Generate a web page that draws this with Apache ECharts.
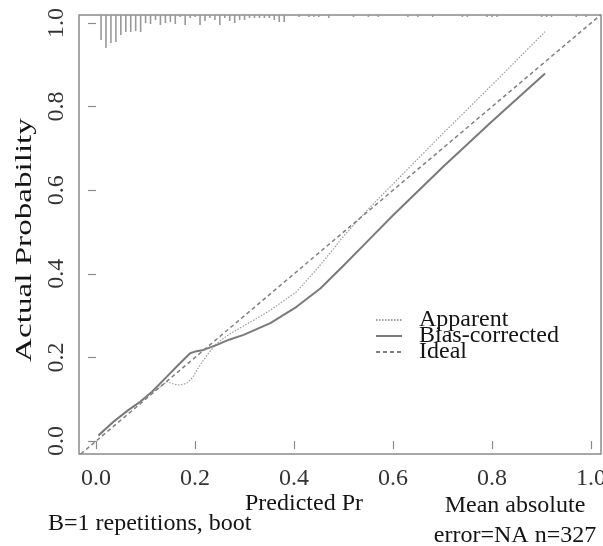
<!DOCTYPE html>
<html>
<head>
<meta charset="utf-8">
<script src="https://cdn.jsdelivr.net/npm/echarts@6/dist/echarts.min.js"></script>
<style>
  html, body { margin: 0; padding: 0; background: #fff; }
  #chart { width: 603px; height: 546px; }
</style>
</head>
<body>
<div id="chart"></div>
<script>
// calibration curves
const apparentX = [0.005, 0.035, 0.065, 0.09, 0.113, 0.13, 0.143, 0.155, 0.165, 0.175, 0.185, 0.195, 0.205, 0.215, 0.225, 0.244, 0.265, 0.284, 0.32, 0.352, 0.405, 0.453, 0.5, 0.55, 0.6, 0.7, 0.8, 0.907]
const apparentY = [0.012, 0.045, 0.073, 0.094, 0.115, 0.13, 0.142, 0.137, 0.134, 0.135, 0.14, 0.152, 0.172, 0.19, 0.207, 0.234, 0.252, 0.266, 0.29, 0.313, 0.357, 0.421, 0.49, 0.555, 0.615, 0.735, 0.852, 0.979]

const biasX = [0.005, 0.035, 0.065, 0.089, 0.113, 0.143, 0.166, 0.19, 0.203, 0.217, 0.244, 0.27, 0.298, 0.352, 0.405, 0.453, 0.5, 0.55, 0.6, 0.7, 0.8, 0.907]
const biasY = [0.014, 0.046, 0.074, 0.094, 0.118, 0.154, 0.182, 0.21, 0.215, 0.218, 0.23, 0.243, 0.254, 0.282, 0.321, 0.365, 0.42, 0.48, 0.54, 0.655, 0.765, 0.879]

const idealX = [-0.031, 1.019]
const idealY = [-0.031, 1.019]

// distribution of predicted values (rug along the top)
const rugX = [0.01, 0.02, 0.03, 0.04, 0.05, 0.06, 0.07, 0.08, 0.09, 0.10, 0.11, 0.12, 0.13, 0.14, 0.15, 0.16, 0.17, 0.18, 0.19, 0.20,
  0.21, 0.22, 0.23, 0.24, 0.25, 0.26, 0.27, 0.28, 0.29, 0.30, 0.31, 0.32, 0.33, 0.34, 0.35, 0.36, 0.37, 0.38, 0.41, 0.43, 0.44, 0.45, 0.47,
  0.52, 0.55, 0.57, 0.63, 0.65, 0.68, 0.74, 0.75, 0.79, 0.80, 0.81, 0.90, 0.91, 0.92, 0.97, 0.99]
const rugFreq = [25, 33, 28, 27, 20, 17, 17, 16, 17, 8, 9, 5, 10, 8, 7, 9, 2, 10, 3, 2,
  10, 6, 3, 5, 10, 3, 6, 8, 5, 5, 3, 3, 3, 3, 3, 5, 7, 7, 2, 2, 2, 2, 3,
  2, 2, 2, 2, 2, 2, 2, 2, 2, 2, 2, 2, 2, 2, 2, 2]

const tickValues = [0, 0.2, 0.4, 0.6, 0.8, 1.0]

const xMin = -0.0345, xMax = 1.02
const yMin = -0.031, yMax = 1.019

const serif = 'Liberation Serif, Times New Roman, serif'
const grey = '#8a8a8a'
const ink = '#141414'

const zip = (a, b) => a.map((v, i) => [v, b[i]])

const chart = echarts.init(document.getElementById('chart'))

chart.setOption({
  animation: false,
  backgroundColor: '#fff',
  textStyle: { fontFamily: serif, color: ink },
  grid: {
    left: 79, top: 15, width: 522, height: 439,
    show: true, borderColor: grey, borderWidth: 1.5,
    outerBoundsMode: 'none',
  },
  xAxis: {
    type: 'value',
    min: xMin, max: xMax,
    axisLine: { show: false },
    splitLine: { show: false },
    axisTick: { show: true, length: 8, lineStyle: { color: grey, width: 1.2 }, customValues: tickValues },
    axisLabel: { fontSize: 24, fontFamily: serif, color: '#333', margin: 13, customValues: tickValues,
      formatter: v => v.toFixed(1) },
  },
  yAxis: {
    type: 'value',
    min: yMin, max: yMax,
    axisLine: { show: false },
    splitLine: { show: false },
    axisTick: { show: true, length: 8, lineStyle: { color: grey, width: 1.2 }, customValues: tickValues },
    axisLabel: { fontSize: 24, fontFamily: serif, color: '#333', margin: 10, rotate: 90, customValues: tickValues,
      formatter: v => v.toFixed(1) },
  },
  legend: {
    orient: 'vertical',
    left: 375, top: 308, padding: 0,
    itemWidth: 26, itemHeight: 14, itemGap: -8,
    itemStyle: { opacity: 0 },
    textStyle: { fontFamily: serif, fontSize: 24, color: ink, padding: [0, 0, 0, 12] },
    data: ['Apparent', 'Bias-corrected', 'Ideal'],
  },
  graphic: [
    { type: 'text', x: 304, y: 504, style: { text: 'Predicted Pr', font: '24px ' + serif, fill: ink, align: 'center', verticalAlign: 'middle' } },
    { type: 'text', x: 515, y: 506, style: { text: 'Mean absolute', font: '24px ' + serif, fill: ink, align: 'center', verticalAlign: 'middle' } },
    { type: 'text', x: 515, y: 536, style: { text: 'error=NA n=327', font: '24px ' + serif, fill: ink, align: 'center', verticalAlign: 'middle' } },
    { type: 'text', x: 48, y: 524, style: { text: 'B=1 repetitions, boot', font: '24px ' + serif, fill: ink, align: 'left', verticalAlign: 'middle' } },
    { type: 'text', x: 25, y: 240, rotation: Math.PI / 2, scaleX: 1.38,
      style: { text: 'Actual Probability', font: '24px ' + serif, fill: ink, align: 'center', verticalAlign: 'middle' } },
  ],
  series: [
    {
      name: 'Apparent', type: 'line', symbol: 'none', showSymbol: false,
      lineStyle: { color: '#9a9a9a', width: 1.2, type: [1.5, 1.5] },
      itemStyle: { color: '#9a9a9a' },
      data: zip(apparentX, apparentY),
    },
    {
      name: 'Bias-corrected', type: 'line', symbol: 'none', showSymbol: false,
      lineStyle: { color: '#7a7a7a', width: 2 },
      itemStyle: { color: '#7a7a7a' },
      data: zip(biasX, biasY),
    },
    {
      name: 'Ideal', type: 'line', symbol: 'none', showSymbol: false,
      lineStyle: { color: '#808080', width: 1.5, type: [4, 3] },
      itemStyle: { color: '#808080' },
      data: zip(idealX, idealY),
    },
    {
      name: 'rug', type: 'custom',
      clip: true,
      renderItem: (params, api) => {
        const x = api.value(0), f = api.value(1)
        const top = api.coord([x, yMax])
        const bot = api.coord([x, yMax - f / 418])
        return {
          type: 'line',
          shape: { x1: top[0], y1: top[1], x2: bot[0], y2: bot[1] },
          style: { stroke: '#999', lineWidth: 1.6 },
        }
      },
      data: zip(rugX, rugFreq),
    },
  ],
})
</script>
</body>
</html>
